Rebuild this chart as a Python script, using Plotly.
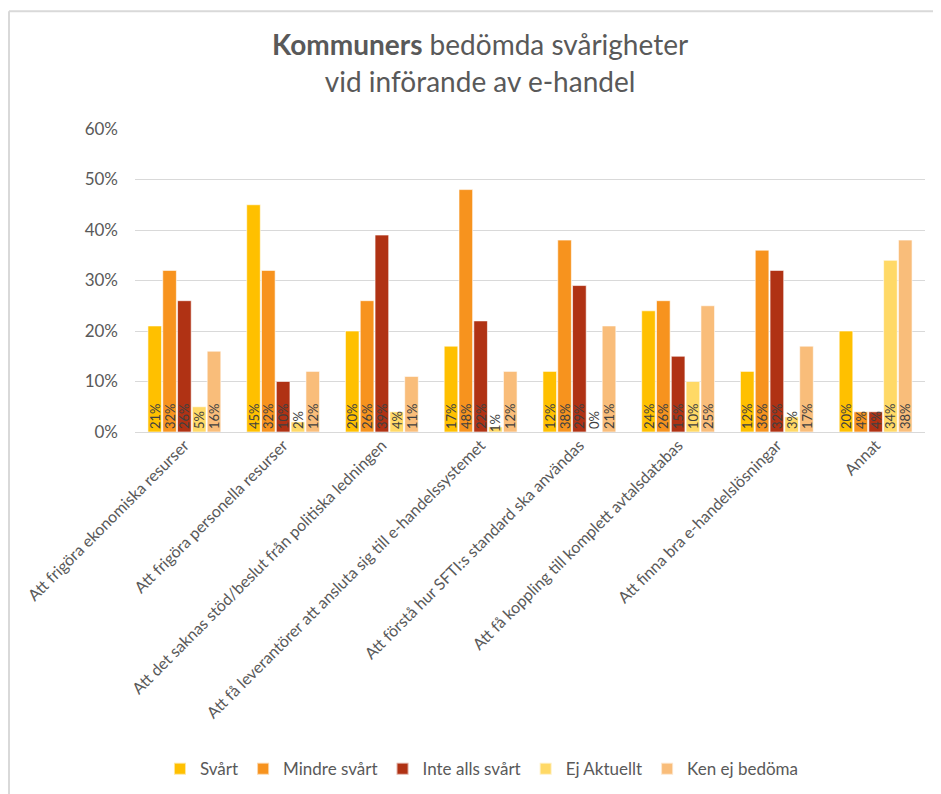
import plotly.graph_objects as go

# kategorier och serier (andel i %)
kategorier = [
    "Att frigöra ekonomiska resurser",
    "Att frigöra personella resurser",
    "Att det saknas stöd/beslut från politiska ledningen",
    "Att få leverantörer att ansluta sig till e-handelssystemet",
    "Att förstå hur SFTI:s standard ska användas",
    "Att få koppling till komplett avtalsdatabas",
    "Att finna bra e-handelslösningar",
    "Annat",
]
svart = [21, 45, 20, 17, 12, 24, 12, 20]
mindre_svart = [32, 32, 26, 48, 38, 26, 36, 4]
inte_alls_svart = [26, 10, 39, 22, 29, 15, 32, 4]
ej_aktuellt = [5, 2, 4, 1, 0, 10, 3, 34]
ken_ej = [16, 12, 11, 12, 21, 25, 17, 38]

serier = [
    ("Svårt", svart, "#FFC000"),
    ("Mindre svårt", mindre_svart, "#F7931E"),
    ("Inte alls svårt", inte_alls_svart, "#B03214"),
    ("Ej Aktuellt", ej_aktuellt, "#FFD966"),
    ("Ken ej bedöma", ken_ej, "#F9BD7A"),
]

fnt = "Lato, 'Liberation Sans', sans-serif"

fig = go.Figure()
for namn, vals, farg in serier:
    fig.add_trace(go.Bar(
        x=kategorier,
        y=[v / 100 for v in vals],
        name=namn,
        marker=dict(color=farg, line=dict(color="rgba(255,255,255,0.6)", width=1)),
        text=[f"{v}%" for v in vals],
        # nollvärden syns bara med text utanför stapeln
        textposition=["outside" if v == 0 else "inside" for v in vals],
        insidetextanchor="start",
        textangle=-90,
        textfont=dict(size=13, color="#404040", family=fnt),
        cliponaxis=False,
    ))

# sidan har 8px marginal i body, så figuren görs lite mindre
fig.update_layout(
    width=933,
    height=786,
    barmode="group",
    bargap=0.25,
    bargroupgap=0.08,
    plot_bgcolor="white",
    paper_bgcolor="white",
    margin=dict(l=127, r=16, t=121, b=362),
    font=dict(family=fnt, color="#595959"),
    uniformtext=dict(minsize=13, mode="show"),
    title=dict(
        text="<b>Kommuners</b> bedömda svårigheter<br>vid införande av e-handel",
        x=0.506, xanchor="center", y=0.94, yanchor="top",
        font=dict(size=28, color="#595959", family=fnt),
    ),
    legend=dict(
        orientation="h",
        xref="container", yref="container",
        x=0.508, xanchor="center",
        y=0.0315, yanchor="middle",
        font=dict(size=17, color="#595959", family=fnt),
        itemsizing="constant",
        traceorder="normal",
    ),
    xaxis=dict(
        tickangle=-45,
        tickfont=dict(size=16, color="#595959", family=fnt),
        showline=False,
        ticks="",
        automargin=False,
    ),
    yaxis=dict(
        range=[0, 0.6],
        dtick=0.1,
        tickformat=".0%",
        gridcolor="#D9D9D9",
        gridwidth=1,
        zeroline=True,
        zerolinecolor="#D9D9D9",
        zerolinewidth=1,
        tickfont=dict(size=17, color="#595959", family=fnt),
        ticklabelstandoff=16,
        automargin=False,
    ),
    shapes=[
        dict(type="line", xref="paper", yref="paper",
             x0=-0.1595, x1=1.05, y0=1.389, y1=1.389,
             line=dict(color="#D9D9D9", width=2)),
        dict(type="line", xref="paper", yref="paper",
             x0=-0.1595, x1=-0.1595, y0=1.389, y1=-1.3,
             line=dict(color="#D9D9D9", width=2)),
    ],
)

fig.write_html("out.html")
